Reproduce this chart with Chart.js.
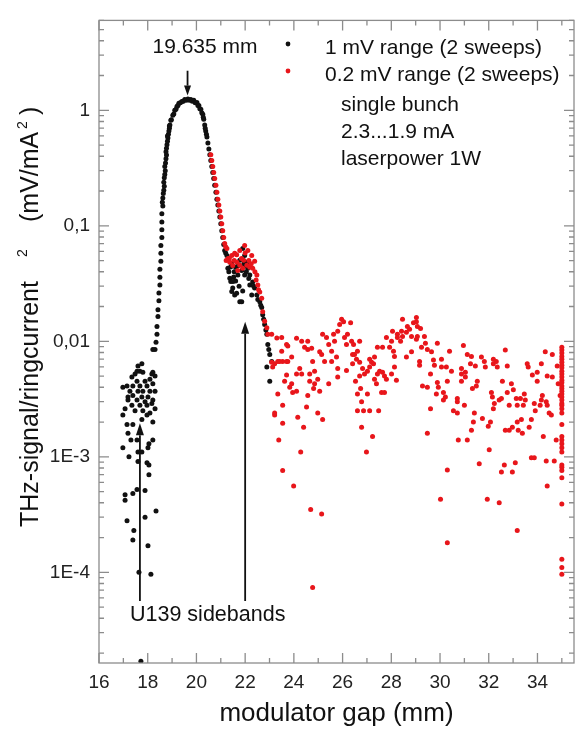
<!DOCTYPE html>
<html>
<head>
<meta charset="utf-8">
<title>THz signal vs modulator gap</title>
<script src="https://cdn.jsdelivr.net/npm/chart.js@4.4.1/dist/chart.umd.min.js"></script>
<style>
  html, body { margin: 0; padding: 0; background: #fff; }
  canvas { display: block; }
</style>
</head>
<body>
<canvas id="chart" width="578" height="730"></canvas>
<script>
// x = modulator gap (mm), y = THz-signal / ringcurrent^2 (mV/mA^2)

// 1 mV range, black points
const sidebandPts = [
    [17.76, 0.0064], [17.60, 0.0061], [17.68, 0.0055], [17.80, 0.0054], [17.48, 0.0052],
    [18.21, 0.0054], [18.30, 0.0050], [17.35, 0.0049], [17.56, 0.0045], [17.89, 0.0045],
    [18.09, 0.0047], [17.15, 0.0041], [17.39, 0.0041], [17.68, 0.0041], [17.97, 0.0041],
    [18.21, 0.0043], [16.98, 0.0040], [17.27, 0.0037], [17.60, 0.0037], [17.80, 0.0037],
    [18.09, 0.0037], [18.30, 0.0037], [17.39, 0.0034], [17.76, 0.0033], [18.01, 0.0033],
    [18.21, 0.0031], [17.19, 0.0031], [17.56, 0.0031], [17.89, 0.0030], [18.17, 0.0029],
    [17.35, 0.0028], [17.68, 0.0028], [17.97, 0.0028], [18.30, 0.0026], [17.07, 0.0026],
    [17.48, 0.0025], [17.80, 0.0025], [18.09, 0.0024], [16.98, 0.0023], [17.97, 0.0023],
    [18.21, 0.0020], [17.39, 0.0019], [17.76, 0.0021], [17.15, 0.0019], [17.56, 0.0055],
    [18.17, 0.0052], [17.19, 0.0033], [17.19, 0.0016], [17.31, 0.0014], [17.56, 0.0014],
    [18.05, 0.0013], [16.98, 0.0012], [18.21, 0.0014], [18.01, 0.0012], [17.60, 0.0011],
    [17.76, 0.0011], [17.23, 0.0010], [17.60, 0.00091], [17.97, 0.00089], [18.05, 0.00085],
    [18.05, 0.00070], [17.07, 0.00047], [17.07, 0.00042], [17.39, 0.00048], [17.56, 0.00052],
    [17.89, 0.00051], [18.34, 0.00034], [17.15, 0.00028], [17.89, 0.00030], [17.43, 0.00023],
    [17.39, 0.00019], [18.01, 0.00017], [17.64, 0.00010], [18.13, 0.000096], [17.72, 0.000017]
];

const peakPts = [
    [18.30, 0.0085], [18.21, 0.0085], [18.34, 0.0098], [18.38, 0.0115], [18.38, 0.0134],
    [18.42, 0.0164], [18.42, 0.0188], [18.46, 0.0224], [18.46, 0.0262], [18.50, 0.0307],
    [18.50, 0.0359], [18.50, 0.0420], [18.54, 0.0493], [18.54, 0.0577], [18.54, 0.0675],
    [18.58, 0.0790], [18.58, 0.0924], [18.58, 0.108], [18.58, 0.127], [18.62, 0.148],
    [18.60, 0.160], [18.62, 0.174], [18.64, 0.190], [18.66, 0.203], [18.68, 0.220],
    [18.66, 0.238], [18.68, 0.260], [18.70, 0.278], [18.72, 0.300], [18.70, 0.326],
    [18.73, 0.350], [18.75, 0.381], [18.77, 0.410], [18.75, 0.438], [18.77, 0.470],
    [18.79, 0.502], [18.81, 0.540], [18.83, 0.576], [18.85, 0.620], [18.87, 0.661],
    [18.89, 0.700], [18.91, 0.744], [18.95, 0.821], [19.03, 0.906], [19.11, 1.0],
    [19.20, 1.08], [19.28, 1.15], [19.40, 1.19], [19.52, 1.24], [19.65, 1.25],
    [19.77, 1.24], [19.89, 1.22], [20.02, 1.17], [20.10, 1.10], [20.18, 1.02],
    [20.26, 0.924], [20.30, 0.838], [20.34, 0.744], [20.38, 0.661], [20.43, 0.588],
    [20.47, 0.522], [20.51, 0.463], [20.55, 0.412], [20.59, 0.367], [20.63, 0.326],
    [20.67, 0.289], [20.71, 0.257], [20.75, 0.224], [20.80, 0.195], [20.84, 0.170],
    [20.88, 0.151], [20.92, 0.134], [20.96, 0.119], [21.00, 0.104], [21.04, 0.0906],
    [21.08, 0.0790], [21.12, 0.0688], [21.16, 0.0611],
    [18.81, 0.600], [18.89, 0.730], [18.97, 0.830], [19.07, 0.930], [19.16, 1.02],
    [19.24, 1.10], [19.34, 1.16], [19.46, 1.20], [19.58, 1.22], [19.71, 1.22],
    [19.83, 1.20], [19.95, 1.16], [20.06, 1.10], [20.14, 1.03], [20.22, 0.95],
    [20.28, 0.87], [20.36, 0.70], [20.41, 0.62]
];

const shoulderBlackPts = [
    [21.25, 0.0554], [21.29, 0.0429], [21.37, 0.0352], [21.49, 0.0290], [21.57, 0.0252],
    [21.78, 0.0220], [21.90, 0.0636], [21.98, 0.0554], [22.07, 0.0483], [22.11, 0.0429],
    [22.19, 0.0374], [21.70, 0.0374], [22.31, 0.0326], [22.39, 0.0290], [22.48, 0.0252],
    [22.60, 0.0220], [22.68, 0.0196], [22.72, 0.0170], [22.80, 0.0140], [22.89, 0.0115],
    [22.93, 0.0094], [23.01, 0.0077], [23.09, 0.0067], [22.89, 0.0060], [23.01, 0.0045],
    [21.45, 0.0470], [21.61, 0.0438], [21.78, 0.0503], [21.86, 0.0411], [21.98, 0.0374],
    [22.19, 0.0307], [21.61, 0.0333], [21.90, 0.0273], [22.27, 0.0252], [21.86, 0.0220],
    [21.20, 0.0580], [21.33, 0.0400], [21.41, 0.0330], [21.53, 0.0360], [22.02, 0.0450],
    [22.15, 0.0350], [22.35, 0.0300], [22.52, 0.0230], [22.64, 0.0205], [22.76, 0.0155],
    [22.85, 0.0125], [22.97, 0.0085], [21.40, 0.0440], [21.55, 0.0400], [21.70, 0.0450],
    [21.95, 0.0470], [22.05, 0.0400], [21.50, 0.0330], [21.75, 0.0300], [21.65, 0.0260],
    [21.45, 0.0270]
];

// 0.2 mV range, red points
const redEdgePts = [
    [20.59, 0.412], [20.63, 0.367], [20.67, 0.326], [20.71, 0.289], [20.75, 0.257],
    [20.80, 0.224], [20.84, 0.195], [20.88, 0.170], [20.92, 0.151], [20.96, 0.134],
    [21.00, 0.119], [21.04, 0.104], [21.08, 0.0906], [21.12, 0.0790], [21.16, 0.0703],
    [21.25, 0.0636], [21.37, 0.0483], [21.49, 0.0454], [21.66, 0.0483], [21.78, 0.0455],
    [21.90, 0.0429], [22.07, 0.0455], [22.19, 0.0437], [22.31, 0.0429], [22.48, 0.0374],
    [22.52, 0.0307], [22.60, 0.0267], [22.68, 0.0236], [22.72, 0.0180], [22.80, 0.0149],
    [22.89, 0.0131], [22.93, 0.0115], [23.09, 0.0115], [23.30, 0.0107], [23.50, 0.0082],
    [23.34, 0.0067], [23.54, 0.0067], [23.70, 0.0094], [23.75, 0.0067], [23.62, 0.0045],
    [23.34, 0.0035], [23.54, 0.0028], [23.21, 0.0023], [23.54, 0.00195], [21.57, 0.0577],
    [21.78, 0.0611], [21.98, 0.0675], [22.11, 0.0611], [22.27, 0.0554], [22.39, 0.0493],
    [21.45, 0.0554], [21.70, 0.0411], [21.94, 0.0503], [21.20, 0.0660], [21.30, 0.0520],
    [21.22, 0.0500], [21.35, 0.0520], [21.55, 0.0500], [21.65, 0.0560], [21.85, 0.0520],
    [22.00, 0.0580], [22.15, 0.0500], [22.25, 0.0470], [22.40, 0.0400], [22.45, 0.0340],
    [22.55, 0.0280]
];

const redScatterPts = [
    [23.50, 0.0108], [24.11, 0.0106], [24.32, 0.0100], [24.57, 0.0100], [23.75, 0.0091],
    [24.44, 0.0089], [24.57, 0.0085], [24.73, 0.0087], [25.06, 0.0081], [25.18, 0.0115],
    [25.34, 0.0108], [25.63, 0.0115], [25.80, 0.0122], [25.88, 0.0140], [25.96, 0.0155],
    [26.04, 0.0148], [26.33, 0.0145], [26.20, 0.0115], [26.08, 0.0108], [26.37, 0.0100],
    [26.16, 0.0094], [26.45, 0.0094], [26.70, 0.0100], [26.61, 0.0082], [26.41, 0.0077],
    [25.67, 0.0100], [25.43, 0.0094], [25.55, 0.0082], [25.75, 0.0073], [25.55, 0.0067],
    [25.26, 0.0067], [25.14, 0.0077], [24.77, 0.0067], [24.85, 0.0055], [24.65, 0.0052],
    [24.24, 0.0058], [24.32, 0.0052], [24.11, 0.0052], [23.91, 0.0073], [23.70, 0.0067],
    [23.42, 0.0067], [23.21, 0.0064], [23.09, 0.0066], [23.13, 0.0060], [23.70, 0.0051],
    [23.91, 0.0043], [23.83, 0.0040], [24.11, 0.0037], [23.95, 0.0036], [24.65, 0.0045],
    [24.98, 0.0047], [24.85, 0.0043], [25.06, 0.0037], [24.81, 0.0039], [24.57, 0.0034],
    [23.21, 0.0024], [24.52, 0.0027], [24.16, 0.0022], [24.40, 0.0018], [24.98, 0.0024],
    [25.18, 0.0021], [23.38, 0.0014], [24.28, 0.0011], [23.54, 0.00076], [23.99, 0.00056],
    [24.69, 0.00035], [25.14, 0.00032], [24.77, 0.000074], [25.80, 0.0058], [25.80, 0.0049],
    [25.43, 0.0043], [26.16, 0.0056], [26.49, 0.0077], [26.57, 0.0070], [26.53, 0.0045],
    [26.41, 0.0064], [26.70, 0.0066], [26.82, 0.0058], [26.70, 0.0050], [26.90, 0.0052],
    [27.11, 0.0070], [27.19, 0.0066], [27.27, 0.0064], [27.11, 0.0060], [27.31, 0.0073],
    [27.02, 0.0055], [26.74, 0.0039], [26.61, 0.0035], [26.78, 0.0030], [26.86, 0.0025],
    [26.61, 0.0025], [27.11, 0.0025], [27.02, 0.0035], [26.78, 0.0018], [27.23, 0.0015],
    [26.98, 0.0011], [27.39, 0.0043], [27.43, 0.0052], [27.31, 0.0047], [27.52, 0.0055],
    [27.64, 0.0054], [27.72, 0.0050], [27.80, 0.0047], [28.01, 0.0052], [28.13, 0.0060],
    [28.21, 0.0046], [27.60, 0.0036], [27.72, 0.0036], [27.48, 0.0025], [27.43, 0.0089],
    [27.64, 0.0089], [27.80, 0.0108], [28.01, 0.0100], [27.93, 0.0089], [28.09, 0.0082],
    [28.13, 0.0074], [28.05, 0.0122], [28.25, 0.0115], [28.46, 0.0155], [28.42, 0.0122],
    [28.46, 0.0110], [28.62, 0.0120], [28.66, 0.0134], [28.75, 0.0127], [28.83, 0.0110],
    [28.91, 0.0145], [29.03, 0.0161], [29.07, 0.0110], [28.83, 0.0081], [28.62, 0.0073],
    [28.25, 0.0108], [28.38, 0.0100], [29.03, 0.0148], [29.07, 0.0134], [29.20, 0.0129],
    [29.03, 0.0104], [29.36, 0.0110], [29.24, 0.0089], [29.40, 0.0096], [29.48, 0.0085],
    [29.65, 0.0081], [29.89, 0.0096], [29.16, 0.0067], [29.16, 0.0062], [29.73, 0.0069],
    [29.77, 0.0062], [30.06, 0.0070], [29.61, 0.0052], [29.28, 0.0041], [29.48, 0.0040],
    [29.89, 0.0044], [29.93, 0.0040], [29.85, 0.0035], [30.14, 0.0036], [30.22, 0.0033],
    [30.14, 0.0031], [29.61, 0.0026], [29.48, 0.0016], [30.06, 0.0060], [30.26, 0.0060],
    [30.30, 0.0045], [30.39, 0.0082], [30.47, 0.0055], [30.71, 0.0032], [30.71, 0.0030],
    [30.55, 0.0025], [30.71, 0.0024], [30.75, 0.0014], [30.96, 0.0092], [30.88, 0.0058],
    [30.88, 0.0052], [30.88, 0.0045], [31.04, 0.0054], [31.04, 0.0049], [31.00, 0.0028],
    [31.12, 0.0077], [31.25, 0.0064], [31.29, 0.0074], [31.45, 0.0061], [31.33, 0.0039],
    [31.49, 0.0041], [31.53, 0.0045], [31.41, 0.0024], [31.37, 0.0020], [31.29, 0.0017],
    [31.12, 0.0014], [31.70, 0.0073], [31.82, 0.0067], [31.86, 0.0060], [32.19, 0.0070],
    [32.19, 0.0064], [32.35, 0.0060], [32.31, 0.0067], [31.74, 0.00215], [32.07, 0.0020],
    [31.98, 0.00184], [32.02, 0.00115], [31.61, 0.00087], [32.11, 0.0036], [32.15, 0.0033],
    [32.23, 0.0029], [32.19, 0.0026], [32.43, 0.0031], [32.52, 0.0032], [32.56, 0.0045],
    [32.68, 0.0084], [32.76, 0.0061], [32.76, 0.0036], [32.84, 0.0028], [32.93, 0.0043],
    [33.01, 0.0038], [32.68, 0.0017], [32.84, 0.0017], [32.97, 0.0018], [32.64, 0.00085],
    [32.52, 0.00074], [32.97, 0.00074], [33.09, 0.00089], [33.13, 0.0032], [33.17, 0.0028],
    [33.30, 0.0032], [33.17, 0.0020], [33.34, 0.0021], [33.21, 0.0017], [33.38, 0.0016],
    [33.46, 0.0035], [33.50, 0.0031], [33.42, 0.0028], [33.17, 0.00023], [32.43, 0.00040],
    [31.94, 0.00043], [30.30, 0.00077], [30.02, 0.00043], [30.30, 0.00018], [33.58, 0.0064],
    [33.62, 0.0060], [33.75, 0.0021], [33.79, 0.0051], [33.87, 0.0029], [33.91, 0.0025],
    [33.99, 0.0054], [33.99, 0.0045], [33.66, 0.0018], [33.75, 0.00098], [33.87, 0.00098],
    [34.16, 0.0064], [34.20, 0.0034], [34.16, 0.0031], [34.11, 0.0028], [34.32, 0.0081],
    [34.36, 0.0030], [34.40, 0.0050], [34.40, 0.0028], [34.48, 0.0024], [34.57, 0.0023],
    [34.24, 0.0015], [34.36, 0.00092], [34.40, 0.00056], [34.61, 0.0077], [34.61, 0.0049],
    [34.69, 0.00092], [34.77, 0.0014], [34.81, 0.0061], [34.85, 0.0043], [34.93, 0.0034]
];

// last gap setting, many readings stacked at 35 mm
const lastGap = 35;
const lastGapY = [
    0.0089, 0.0084, 0.0079, 0.0074, 0.0070, 0.0066, 0.0062, 0.0059, 0.0055, 0.0052,
    0.0049, 0.0046, 0.0044, 0.0041, 0.0039, 0.0037, 0.0035, 0.0033, 0.0031, 0.0029,
    0.0028, 0.0026, 0.0024, 0.0019, 0.0015, 0.0014, 0.0013, 0.0012, 0.0011, 0.00085,
    0.00081, 0.00076, 0.00066, 0.00039, 0.00013, 0.00011, 0.000096
];

const xTicks = [16, 18, 20, 22, 24, 26, 28, 30, 32, 34];
const yTicks = [1e-4, 1e-3, 1e-2, 0.1, 1];
const yTickLabels = ['1E-4', '1E-3', '0,01', '0,1', '1'];

const FONT = '"Liberation Sans", Arial, Helvetica, sans-serif';
const GREY = '#8c8c8c';

const toXY = (pts) => pts.map(([x, y]) => ({ x, y }));

const blackData = toXY(sidebandPts.concat(peakPts, shoulderBlackPts));
const redData = toXY(redEdgePts.concat(redScatterPts))
    .concat(lastGapY.map((y) => ({ x: lastGap, y })));

function drawArrow(ctx, x, yFrom, yTip, headLen, headHalf) {
    const dir = yTip > yFrom ? 1 : -1;
    ctx.beginPath();
    ctx.moveTo(x, yFrom);
    ctx.lineTo(x, yTip - dir * headLen);
    ctx.stroke();
    ctx.beginPath();
    ctx.moveTo(x, yTip);
    ctx.lineTo(x - headHalf, yTip - dir * headLen);
    ctx.lineTo(x + headHalf, yTip - dir * headLen);
    ctx.closePath();
    ctx.fill();
}

const decorations = {
    id: 'decorations',
    afterDraw(chart) {
        const { ctx, chartArea: a } = chart;
        const xs = chart.scales.x;
        const ys = chart.scales.y;

        ctx.save();

        // frame with inward ticks on all four sides
        ctx.strokeStyle = GREY;
        ctx.lineWidth = 1.3;
        ctx.strokeRect(a.left, a.top, a.right - a.left, a.bottom - a.top);

        ctx.beginPath();
        for (let v = 16; v <= 35; v++) {
            const px = xs.getPixelForValue(v);
            const len = v % 2 === 0 ? 10 : 5;
            ctx.moveTo(px, a.bottom);
            ctx.lineTo(px, a.bottom - len);
            ctx.moveTo(px, a.top);
            ctx.lineTo(px, a.top + len);
        }
        for (let e = -5; e <= 0; e++) {
            for (let m = 1; m <= 9; m++) {
                const v = m * Math.pow(10, e);
                if (v < ys.min || v > ys.max) continue;
                const py = ys.getPixelForValue(v);
                const len = m === 1 ? 10 : 5;
                ctx.moveTo(a.left, py);
                ctx.lineTo(a.left + len, py);
                ctx.moveTo(a.right, py);
                ctx.lineTo(a.right - len, py);
            }
        }
        ctx.stroke();

        // arrows
        ctx.strokeStyle = '#111';
        ctx.fillStyle = '#111';
        ctx.lineWidth = 1.8;
        drawArrow(ctx, xs.getPixelForValue(19.635), ys.getPixelForValue(2.2), ys.getPixelForValue(1.34), 10, 3.5);
        drawArrow(ctx, xs.getPixelForValue(17.68), ys.getPixelForValue(5.65e-5), ys.getPixelForValue(0.00195), 12, 4);
        drawArrow(ctx, xs.getPixelForValue(22.0), ys.getPixelForValue(5.65e-5), ys.getPixelForValue(0.0148), 12, 4);

        // texts
        ctx.fillStyle = '#111';
        ctx.textBaseline = 'alphabetic';
        ctx.font = '21px ' + FONT;
        ctx.textAlign = 'center';
        ctx.fillText('19.635 mm', 205, 53);
        ctx.textAlign = 'left';
        ctx.font = '21.5px ' + FONT;
        ctx.fillText('U139 sidebands', 130, 621);

        ctx.font = '21px ' + FONT;
        ctx.fillText('1 mV range (2 sweeps)', 325, 54);
        ctx.fillText('0.2 mV range (2 sweeps)', 325, 81);
        ctx.fillText('single bunch', 341, 111);
        ctx.fillText('2.3...1.9 mA', 341, 138);
        ctx.fillText('laserpower 1W', 341, 165);

        ctx.beginPath();
        ctx.arc(288, 44, 2.4, 0, Math.PI * 2);
        ctx.fill();
        ctx.fillStyle = '#e8161b';
        ctx.beginPath();
        ctx.arc(288, 71, 2.4, 0, Math.PI * 2);
        ctx.fill();

        // axis titles
        ctx.fillStyle = '#111';
        ctx.font = '26px ' + FONT;
        ctx.textAlign = 'center';
        ctx.fillText('modulator gap (mm)', (a.left + a.right) / 2, 721);

        ctx.translate(38, 527);
        ctx.rotate(-Math.PI / 2);
        ctx.textAlign = 'left';
        ctx.font = '25px ' + FONT;
        ctx.fillText('THz-signal/ringcurrent', 0, 0);
        ctx.font = '14px ' + FONT;
        ctx.fillText('2', 270, -11);
        ctx.font = '25px ' + FONT;
        ctx.fillText('(mV/mA', 305, 0);
        ctx.font = '14px ' + FONT;
        ctx.fillText('2', 398, -11);
        ctx.font = '25px ' + FONT;
        ctx.fillText(')', 412, 0);

        ctx.restore();
    }
};

const ctx = document.getElementById('chart').getContext('2d');
new Chart(ctx, {
    type: 'scatter',
    data: {
        datasets: [{
            label: '1 mV range (2 sweeps)',
            data: blackData,
            backgroundColor: '#111111',
            borderWidth: 0,
            pointRadius: 2.5,
            order: 2
        }, {
            label: '0.2 mV range (2 sweeps)',
            data: redData,
            backgroundColor: '#e8161b',
            borderWidth: 0,
            pointRadius: 2.5,
            order: 1
        }]
    },
    options: {
        responsive: false,
        animation: false,
        layout: {
            padding: { top: 12, right: 3, left: 0, bottom: 0 }
        },
        plugins: {
            legend: { display: false },
            tooltip: { enabled: false }
        },
        scales: {
            x: {
                type: 'linear',
                min: 16,
                max: 35.5,
                grid: { display: false, drawTicks: false },
                border: { display: false },
                afterBuildTicks: (scale) => {
                    scale.ticks = xTicks.map((v) => ({ value: v }));
                },
                afterFit: (scale) => { scale.height = 67; },
                ticks: {
                    padding: 8,
                    color: '#222',
                    font: { family: FONT, size: 19 },
                    callback: (v) => String(v)
                }
            },
            y: {
                type: 'logarithmic',
                min: 1.64e-5,
                max: 6.0,
                grid: { display: false, drawTicks: false },
                border: { display: false },
                afterBuildTicks: (scale) => {
                    scale.ticks = yTicks.map((v) => ({ value: v, major: true }));
                },
                afterFit: (scale) => { scale.width = 99; },
                ticks: {
                    padding: 9,
                    color: '#222',
                    font: { family: FONT, size: 19 },
                    callback: (v, i) => yTickLabels[i]
                }
            }
        }
    },
    plugins: [decorations]
});
</script>
</body>
</html>
